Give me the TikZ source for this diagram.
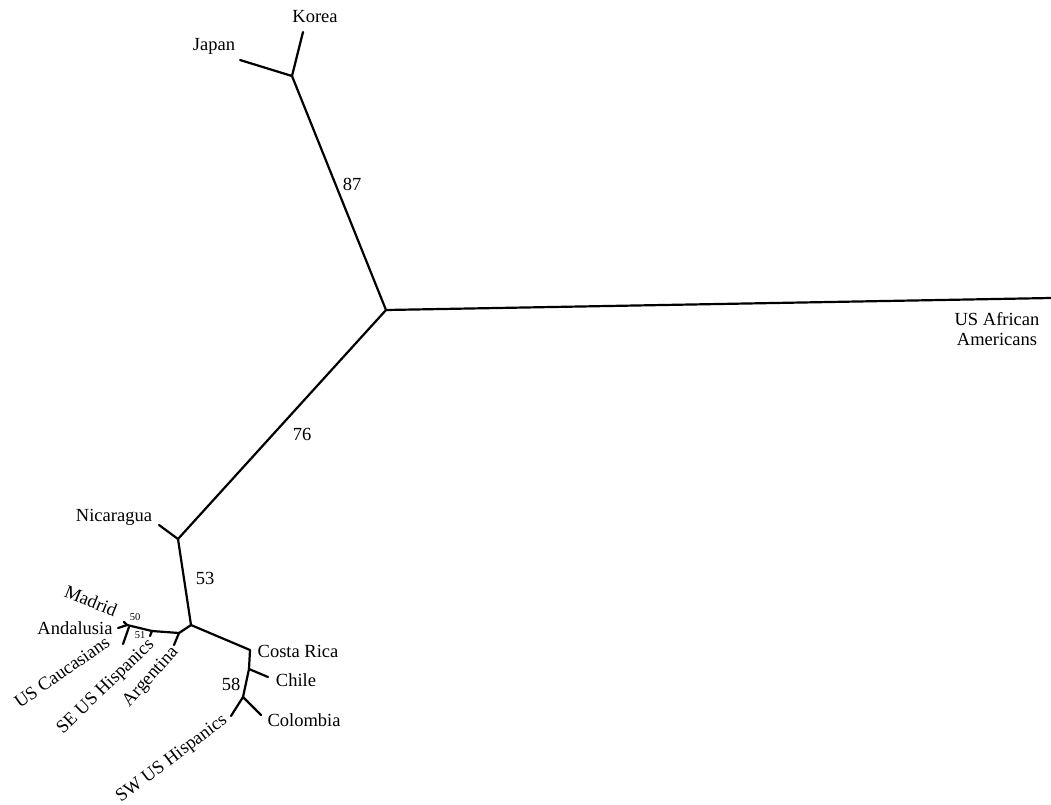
\documentclass[tikz,border=0pt]{standalone}
\usepackage{fontspec}
\setmainfont{Liberation Serif}
\begin{document}
\begin{tikzpicture}[x=1pt,y=-1pt,
  br/.style={line width=2.2pt,line cap=round,line join=round},
  lab/.style={font=\fontsize{18.5}{20.5}\selectfont,inner sep=0pt},
  sup/.style={font=\fontsize{18.5}{20.5}\selectfont,inner sep=0pt},
  ssup/.style={font=\fontsize{10.5}{11}\selectfont,inner sep=0pt}]
\useasboundingbox (0,0) rectangle (1051,804);
% coordinates
\coordinate (korea) at (303,32);
\coordinate (japan) at (240,60);
\coordinate (n1) at (292,76);
\coordinate (c) at (386,310);
\coordinate (afr) at (1051,298);
\coordinate (n2) at (178,539);
\coordinate (nic) at (159,525);
\coordinate (n3) at (191,625);
\coordinate (cr) at (250,650);
\coordinate (n4) at (249,669);
\coordinate (chile) at (268,677);
\coordinate (n5) at (243,697);
\coordinate (sw) at (231,716);
\coordinate (col) at (261,715);
\coordinate (a1) at (179,633);
\coordinate (arg) at (174,645);
\coordinate (a2) at (152,631);
\coordinate (se) at (150,636);
\coordinate (a3) at (127,625);
\coordinate (and) at (118,628);
\coordinate (mad) at (124,622);
\coordinate (a3b) at (129,627);
\coordinate (usc) at (123,644);
% branches
\draw[br] (korea) -- (n1) -- (japan);
\draw[br] (n1) -- (c) -- (afr);
\draw[br] (c) -- (n2) -- (nic);
\draw[br] (n2) -- (n3) -- (cr) -- (n4) -- (n5);
\draw[br] (n4) -- (chile);
\draw[br] (sw) -- (n5) -- (col);
\draw[br] (n3) -- (a1) -- (arg);
\draw[br] (a1) -- (a2) -- (a3) -- (and);
\draw[br] (a2) -- (se);
\draw[br] (a3) -- (mad);
\draw[br] (a3b) -- (usc);
% labels
\node[lab] (tkorea) at (315,17) {Korea};
\node[lab] (tjapan) at (214,46) {Japan};
\node[lab,align=center] (tafr) at (997,329) {US African\\Americans};
\node[lab] (tnic) at (114,517) {Nicaragua};
\node[lab] (tcr) at (298,651) {Costa Rica};
\node[lab] (tchile) at (296,680) {Chile};
\node[lab] (tcol) at (304,720) {Colombia};
\node[lab] (tand) at (75,628) {Andalusia};
\node[lab,rotate=-22] (tmad) at (91,601) {Madrid};
\node[lab,rotate=35] (tusc) at (62,672) {US Caucasians};
\node[lab,rotate=44] (tse) at (106,687) {SE US Hispanics};
\node[lab,rotate=48] (targ) at (151,677) {Argentina};
\node[lab,rotate=37] (tsw) at (172,759) {SW US Hispanics};
% bootstrap values
\node[sup] (b87) at (352,184) {87};
\node[sup] (b76) at (302,434) {76};
\node[sup] (b53) at (205,578) {53};
\node[sup] (b58) at (231,684) {58};
\node[ssup] (b50) at (135,617) {50};
\node[ssup] (b51) at (140,635) {51};
\end{tikzpicture}
\end{document}
